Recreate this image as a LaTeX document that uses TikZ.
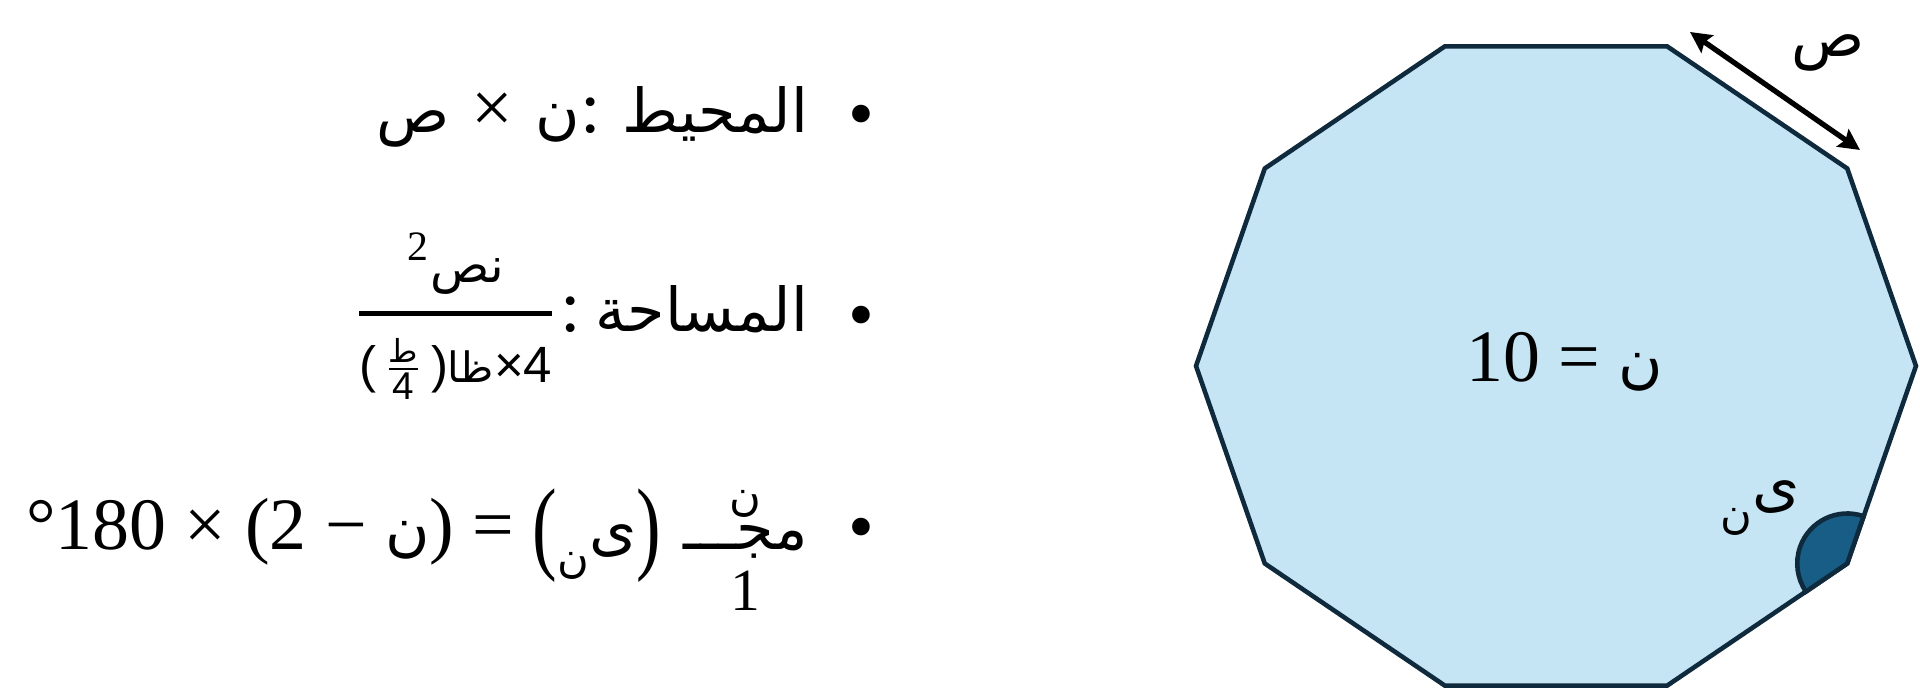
\documentclass[tikz,border=0pt]{standalone}
\usepackage{graphicx}
\usepackage{amsmath}
\usepackage{fontspec}
\setmainfont{Liberation Serif}
\newfontfamily\arfont[Script=Arabic,Scale=0.82]{DejaVu Sans}
\newfontfamily\denfont{Liberation Sans}
\TeXXeTstate=1
\newcommand{\ar}[1]{{\arfont\beginR #1\endR}}
\newcommand{\bigpar}[1]{\raisebox{-0.14em}{\scalebox{1}[1.4]{#1}}}
\usetikzlibrary{arrows.meta,calc}
\definecolor{polyfill}{HTML}{C5E5F5}
\definecolor{polyedge}{HTML}{0F2A3C}
\definecolor{anglefill}{HTML}{175D85}
\tikzset{
  txt/.style={inner sep=0pt, outer sep=0pt, font=\fontsize{21}{25}\selectfont, text=black},
  poly/.style={fill=polyfill, draw=polyedge, line width=1.3pt, line join=miter},
  anglemark/.style={fill=anglefill, draw=polyedge, line width=1.3pt},
  dimarrow/.style={{Stealth[length=6pt,width=6pt,inset=1pt]}-{Stealth[length=6pt,width=6pt,inset=1pt]}, line width=1.5pt, draw=black}
}
\begin{document}
\begin{tikzpicture}[x=0.01cm,y=-0.01cm]
\useasboundingbox (0,0) rectangle (1920,689);
% decagon
\foreach \i in {0,...,9}
  \coordinate (v\i) at ({1556+360*cos(36*\i)}, {366-336*sin(36*\i)});
\draw[poly] (v0) -- (v1) -- (v2) -- (v3) -- (v4) -- (v5) -- (v6) -- (v7) -- (v8) -- (v9) -- cycle;
% interior angle mark
\filldraw[anglemark] (v9) -- ++(-70.9:50) arc[start angle=-70.9, end angle=-214.3, radius=50] -- cycle;
% side length arrow
\coordinate (sa) at (1690,32);
\coordinate (sb) at (1860,150);
\draw[dimarrow] (sa) -- (sb);
\node[txt] (slab) at (1828,53) {\ar{ص}};
\node[txt] (alab) at (1760,508) {\raisebox{-0.3em}{\fontsize{15}{17}\selectfont\ar{ن}}\ar{ى}};
\node[txt, anchor=base] (nten) at (1565,382) {10 = \ar{ن}};
% bullets
\node[txt] (b1) at (861,122) {•};
\node[txt] (b2) at (861,323) {•};
\node[txt] (b3) at (861,535) {•};
% line 1
\node[txt, anchor=base east] (l1) at (808,133)
  {\ar{ص}\hspace{0.3em}×\hspace{0.3em}\ar{ن}:\hspace{0.3em}\ar{المحيط}};
% line 2
\node[txt, anchor=base east] (l2) at (808,332)
  {$\genfrac{}{}{1.5pt}{0}%
     {\mbox{\fontsize{17}{19}\selectfont\textsuperscript{2}\ar{نص}}}%
     {\mbox{\fontsize{14.5}{16}\selectfont\denfont(\,$\frac{\mbox{\fontsize{11}{12}\selectfont\ar{ط}}}{\mbox{\fontsize{11}{12}\selectfont 4}}$\,)\ar{ظا}×4}}$%
   \hspace{0.05em}:\hspace{0.2em}\ar{المساحة}};
% line 3
\node[txt, anchor=base east] (l3) at (808,550)
  {°180 × (2 − \ar{ن}) = \bigpar{(}\raisebox{-0.3em}{\fontsize{15}{17}\selectfont\ar{ن}}\ar{ى}\bigpar{)}\hspace{0.3em}%
   $\displaystyle\mathop{\mbox{\ar{مجـــ}}}\limits^{\mbox{\fontsize{15}{17}\selectfont\ar{ن}}}_{\mbox{\fontsize{17}{19}\selectfont 1}}$};
\end{tikzpicture}
\end{document}
